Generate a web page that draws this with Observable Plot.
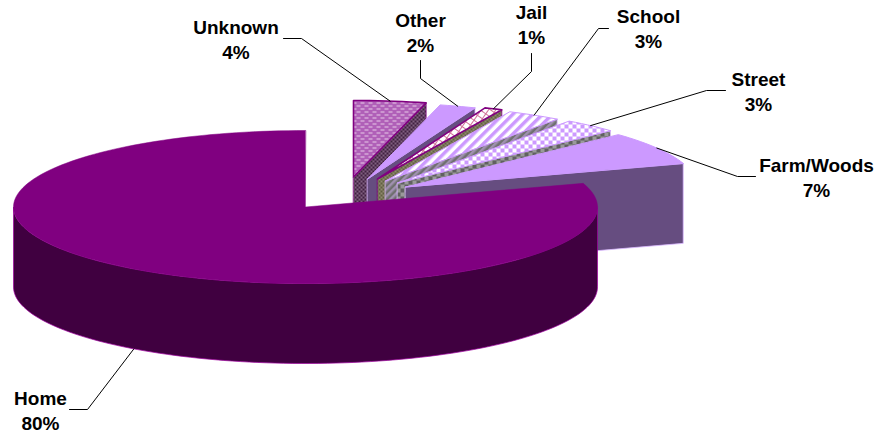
<!DOCTYPE html>
<html>
<head>
<meta charset="utf-8">
<style>html,body{margin:0;padding:0;background:#fff}svg{display:block}</style>
<script src="https://cdn.jsdelivr.net/npm/d3@7"></script>
<script src="https://cdn.jsdelivr.net/npm/@observablehq/plot@0.6"></script>
</head>
<body>
<div id="chart"></div>
<script>
const categories = ["Unknown", "Other", "Jail", "School", "Street", "Farm/Woods", "Home"];
const shares = [4, 2, 1, 3, 3, 7, 80];

const W = 876, H = 434;
const pie = {cx: 305, cy: 206.5, rx: 292, ry: 76.5, depth: 80};
// Displacement of each exploded slice from the pie centre
const explode = {
  Unknown: [48, -30], Other: [62, -28], Jail: [72, -28], School: [80, -26],
  Street: [92, -24], "Farm/Woods": [100, -20], Home: [0, 0]
};
const topFill = {
  Unknown: "url(#pUnknown)", Other: "#cc99ff", Jail: "url(#pJail)", School: "url(#pSchool)",
  Street: "url(#pStreet)", "Farm/Woods": "#cc99ff", Home: "#800080"
};
const sideFill = {
  Unknown: "url(#sUnknown)", Other: "#664d80", Jail: "url(#sJail)", School: "url(#sSchool)",
  Street: "url(#sStreet)", "Farm/Woods": "#664d80", Home: "#400040"
};
const edge = {
  Unknown: "#800080", Other: "#cc99ff", Jail: "#800080", School: "#cc99ff",
  Street: "#cc99ff", "Farm/Woods": "#cc99ff", Home: "#800080"
};
// Label centre, and leader elbow + end next to the label
const labelAt = {
  Unknown: {x: 235.5, y: 38, elbow: [301, 38], end: [283, 38]},
  Other: {x: 420, y: 31, elbow: [420, 78], end: [420, 60]},
  Jail: {x: 531, y: 23, elbow: [531, 71], end: [531, 53]},
  School: {x: 648, y: 27, elbow: [598, 28], end: [608, 28]},
  Street: {x: 758, y: 90, elbow: [706, 90], end: [725, 90]},
  "Farm/Woods": {x: 816, y: 176, elbow: [737, 176], end: [755, 176]},
  Home: {x: 40, y: 409, elbow: [87, 409], end: [69, 409]}
};

const total = d3.sum(shares);
let running = 0;
const slices = categories.map((name, i) => {
  const a0 = running / total * 2 * Math.PI;
  running += shares[i];
  const a1 = running / total * 2 * Math.PI;
  return {name, share: shares[i], a0, a1, dx: explode[name][0], dy: explode[name][1]};
});
const rim = (s, a, drop = 0) => ({
  x: pie.cx + s.dx + pie.rx * Math.sin(a),
  y: pie.cy + s.dy - pie.ry * Math.cos(a) + drop
});
const apex = (s, drop = 0) => ({x: pie.cx + s.dx, y: pie.cy + s.dy + drop});
const arc = (s, a0, a1, drop = 0) => {
  const n = Math.max(2, Math.ceil(Math.abs(a1 - a0) / 0.03));
  return d3.range(n + 1).map(k => rim(s, a0 + (a1 - a0) * k / n, drop));
};
const poly = (pts, fill, stroke, strokeWidth = 0.8) =>
  Plot.line(pts, {x: "x", y: "y", fill, stroke, strokeWidth, curve: "linear-closed"});

const marks = [];
for (const s of slices) {
  if (s.name === "Home") {
    const wall = [...arc(s, Math.PI / 2, 1.5 * Math.PI), ...arc(s, 1.5 * Math.PI, Math.PI / 2, pie.depth)];
    marks.push(poly(wall, sideFill[s.name], "#a000a0", 0.7));
    marks.push(poly([apex(s), ...arc(s, s.a0, s.a1)], topFill[s.name], "#800080", 0.5));
  } else {
    const face = [apex(s), rim(s, s.a1), rim(s, s.a1, pie.depth), apex(s, pie.depth)];
    marks.push(poly(face, sideFill[s.name], edge[s.name] === "#cc99ff" ? "#d9b8ff" : "#800080", 0.8));
    marks.push(poly([apex(s), ...arc(s, s.a0, s.a1)], topFill[s.name], edge[s.name], edge[s.name] === "#800080" ? 1.6 : 1));
  }
}
for (const s of slices) {
  const mid = (s.a0 + s.a1) / 2;
  const start = rim(s, mid, s.name === "Home" ? pie.depth : 0);
  const l = labelAt[s.name];
  marks.push(Plot.line(
    [start, {x: l.elbow[0], y: l.elbow[1]}, {x: l.end[0], y: l.end[1]}],
    {x: "x", y: "y", stroke: "#000", strokeWidth: 1}
  ));
}
marks.push(Plot.text(slices, {
  x: d => labelAt[d.name].x,
  y: d => labelAt[d.name].y,
  text: d => `${d.name}\n${d.share}%`,
  textAnchor: "middle",
  lineAnchor: "middle",
  lineHeight: 1.3,
  fontFamily: "Liberation Sans",
  fontWeight: "bold",
  fontSize: 19,
  fill: "#000"
}));

const chart = Plot.plot({
  width: W, height: H, margin: 0,
  x: {type: "linear", domain: [0, W], range: [0, W], axis: null},
  y: {type: "linear", domain: [0, H], range: [0, H], axis: null},
  style: {background: "#fff", overflow: "visible"},
  marks
});

const svg = d3.select(chart);
const defs = svg.insert("defs", ":first-child");
function pattern(id, w, h, bg, shapes, rotate) {
  const p = defs.append("pattern").attr("id", id).attr("patternUnits", "userSpaceOnUse")
    .attr("width", w).attr("height", h);
  if (rotate) p.attr("patternTransform", `rotate(${rotate})`);
  p.append("rect").attr("width", w).attr("height", h).attr("fill", bg);
  for (const [x, y, rw, rh, f] of shapes)
    p.append("rect").attr("x", x).attr("y", y).attr("width", rw).attr("height", rh).attr("fill", f);
}
const checker = (id, s, a, b) => pattern(id, 2 * s, 2 * s, a, [[0, 0, s, s, b], [s, s, s, s, b]]);
pattern("pUnknown", 8, 6, "#b060b8", [[0, 0, 4, 1, "#e8cce8"], [4, 3, 4, 1, "#e8cce8"]]);
pattern("sUnknown", 4, 4, "#402040", [[0, 0, 2, 2, "#806080"], [2, 2, 2, 2, "#806080"]]);
pattern("pJail", 6, 6, "#ffffff", [[0, 0, 6, 1, "#d07098"], [0, 0, 1, 6, "#d07098"]], 35);
pattern("sJail", 4, 4, "#606040", [[0, 0, 2, 2, "#908870"], [2, 2, 2, 2, "#908870"]]);
pattern("pSchool", 7, 7, "#ffffff", [[0, 0, 3.5, 7, "#cc99ff"]], 45);
pattern("sSchool", 5, 5, "#707070", [[0, 0, 2.5, 5, "#a090b0"]], 45);
checker("pStreet", 4, "#ffffff", "#cc99ff");
checker("sStreet", 4, "#606060", "#9a9a9a");

document.getElementById("chart").append(chart);
</script>
</body>
</html>
